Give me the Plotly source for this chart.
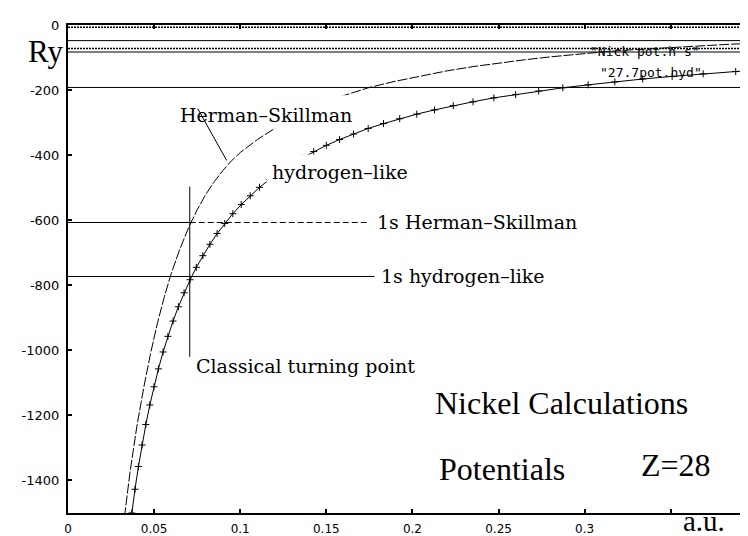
import plotly.graph_objects as go

# ---------------- data ----------------
# Hydrogen-like potential (Ry) on the logarithmic radial mesh (a.u.)
hyd_r = [0.0350, 0.0370, 0.0389, 0.0409, 0.0430, 0.0452, 0.0475, 0.0499, 0.0525,
         0.0552, 0.0580, 0.0610, 0.0641, 0.0674, 0.0709, 0.0745, 0.0783, 0.0824,
         0.0866, 0.0910, 0.0957, 0.1006, 0.1058, 0.1112, 0.1169, 0.1229, 0.1292,
         0.1358, 0.1427, 0.1500, 0.1577, 0.1658, 0.1743, 0.1832, 0.1926, 0.2025,
         0.2128, 0.2237, 0.2352, 0.2473, 0.2599, 0.2733, 0.2873, 0.3020, 0.3175,
         0.3337, 0.3508, 0.3688, 0.3877, 0.4076]
hyd_v = [-1586, -1500, -1427, -1357, -1291, -1228, -1168, -1112, -1057,
         -1005, -957, -910, -866, -823, -783, -745, -709, -674,
         -641, -610, -580, -552, -525, -499, -475, -452, -430,
         -409, -389, -370, -352, -335, -318, -303, -288, -274,
         -261, -248, -236, -224, -214, -203, -193, -184, -175,
         -166, -158, -150, -143, -136]

# Herman-Skillman potential (Ry)
hs_r = [0.030, 0.033, 0.036, 0.040, 0.044, 0.048, 0.052, 0.056, 0.060, 0.065,
        0.070, 0.075, 0.080, 0.085, 0.090, 0.095, 0.100, 0.110, 0.120, 0.130,
        0.140, 0.150, 0.160, 0.175, 0.190, 0.205, 0.220, 0.235, 0.250, 0.265,
        0.280, 0.295, 0.310, 0.325, 0.340, 0.355, 0.370, 0.385, 0.400]
hs_v = [-1660, -1503, -1375, -1233, -1114, -1008, -915, -834, -763, -688,
        -623, -568, -521, -481, -447, -417, -392, -352, -318, -288,
        -261, -237, -217, -192, -173, -156, -141, -128, -117, -107,
        -98, -90, -83, -77, -72, -67, -63, -59, -56]

# energy levels (Ry)
hyd_levels = [-192, -83, -48]      # hydrogen-like n=2,3,4 (solid)
hs_levels = [-72, -7]              # Herman-Skillman outer levels (dotted)
hyd_1s = -773
hs_1s = -607
turning_r = 0.0707
turning_v = [-497, -1020]
hs_1s_end = 0.175
hyd_1s_end = 0.178

x_ticks = [0, 0.05, 0.1, 0.15, 0.2, 0.25, 0.3, 0.35]
x_ticklabels = ["0", "0.05", "0.1", "0.15", "0.2", "0.25", "0.3", ""]
y_ticks = [0, -200, -400, -600, -800, -1000, -1200, -1400]
y_ticklabels = ["0", "-200", "-400", "-600", "-800", "-1000", "-1200", "-1400"]

X_MAX = 0.396
Y_MIN, Y_MAX = -1500, 0

# ---------------- figure ----------------
fig = go.Figure()
BLK = "black"

for lv in hyd_levels:
    fig.add_trace(go.Scatter(x=[0, X_MAX], y=[lv, lv], mode="lines",
                             line=dict(color=BLK, width=1), hoverinfo="skip"))
for lv in hs_levels:
    fig.add_trace(go.Scatter(x=[0, X_MAX], y=[lv, lv], mode="lines",
                             line=dict(color=BLK, width=1.5, dash="2px,1px"), hoverinfo="skip"))

# 1s levels
fig.add_trace(go.Scatter(x=[0, hyd_1s_end], y=[hyd_1s, hyd_1s], mode="lines",
                         line=dict(color=BLK, width=1)))
fig.add_trace(go.Scatter(x=[0, turning_r], y=[hs_1s, hs_1s], mode="lines",
                         line=dict(color=BLK, width=1)))
fig.add_trace(go.Scatter(x=[turning_r, hs_1s_end], y=[hs_1s, hs_1s], mode="lines",
                         line=dict(color=BLK, width=1, dash="6px,3px")))
# classical turning point
fig.add_trace(go.Scatter(x=[turning_r, turning_r], y=turning_v, mode="lines",
                         line=dict(color=BLK, width=1)))

# potentials
fig.add_trace(go.Scatter(x=hs_r, y=hs_v, mode="lines",
                         line=dict(color=BLK, width=1, dash="10px,2px")))
fig.add_trace(go.Scatter(x=hyd_r, y=hyd_v, mode="lines+markers",
                         line=dict(color=BLK, width=1),
                         marker=dict(symbol="cross-thin", size=5,
                                     line=dict(color=BLK, width=1))))

# white masks behind labels (labels were pasted over the curves)
fig.add_shape(type="rect", xref="x", yref="y", x0=0.0608, x1=0.168, y0=-216, y1=-318,
              fillcolor="white", line=dict(width=0), layer="above")
fig.add_shape(type="rect", xref="x", yref="y", x0=0.1153, x1=0.1825, y0=-398, y1=-502,
              fillcolor="white", line=dict(width=0), layer="above")
# leader line from label to Herman-Skillman curve
fig.add_shape(type="line", xref="x", yref="y", x0=0.0753, y0=-257, x1=0.0921, y1=-416,
              line=dict(color=BLK, width=1), layer="above")

SERIF = "DejaVu Serif"
TIMES = "Liberation Serif"


def ann(text, x, y, size, family=SERIF, xanchor="left", xref="x", yref="y",
        yanchor="middle"):
    fig.add_annotation(text=text, x=x, y=y, xref=xref, yref=yref, showarrow=False,
                       xanchor=xanchor, yanchor=yanchor,
                       font=dict(family=family, size=size, color=BLK))


ann("Herman\u2013Skillman", 0.0637, -278, 19)
ann("hydrogen\u2013like", 0.117, -451, 19)
ann("1s Herman\u2013Skillman", 0.1785, hs_1s, 19)
ann("1s hydrogen\u2013like", 0.1808, hyd_1s, 19)
ann("Classical turning point", 0.073, -1047, 19)
ann("Nickel Calculations", 0.361, -1161, 32, TIMES, xanchor="right")
ann("Potentials", 0.2144, -1364, 32, TIMES)
ann("Z=28", 0.3314, -1352, 32, TIMES)
ann('"Nick pot.h s"', 0.368, -82, 13, "DejaVu Sans Mono", xanchor="right")
ann('"27.7pot.hyd"', 0.369, -146, 13, "DejaVu Sans Mono", xanchor="right")
ann("Ry", -0.005, 0.945, 31, TIMES, xanchor="right", xref="paper", yref="paper")
ann("a.u.", 0.932, -0.054, 29, TIMES, xanchor="center", xref="paper", yref="paper",
    yanchor="bottom")

fig.update_layout(
    width=748, height=536,
    margin=dict(l=60, r=4, t=17, b=31),
    paper_bgcolor="white", plot_bgcolor="white",
    showlegend=False,
    xaxis=dict(range=[0, X_MAX], tickvals=x_ticks, ticktext=x_ticklabels,
               ticks="inside", ticklen=4, tickwidth=2, tickcolor=BLK,
               showline=True, linewidth=2, linecolor=BLK, mirror="ticks",
               showgrid=False, zeroline=False, ticklabelstandoff=4,
               tickfont=dict(family="DejaVu Sans", size=12, color=BLK)),
    yaxis=dict(range=[Y_MIN, Y_MAX], tickvals=y_ticks, ticktext=y_ticklabels,
               ticks="inside", ticklen=4, tickwidth=2, tickcolor=BLK,
               showline=True, linewidth=2, linecolor=BLK, mirror="ticks",
               showgrid=False, zeroline=False, ticklabelstandoff=4,
               tickfont=dict(family="DejaVu Sans", size=13, color=BLK)),
)

fig.write_html("out.html")
